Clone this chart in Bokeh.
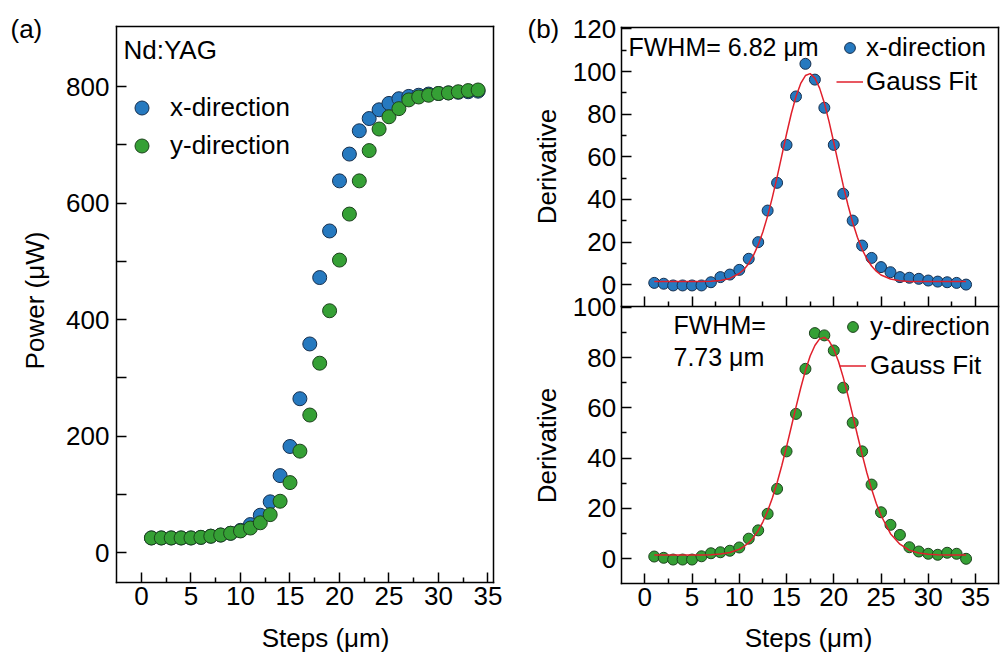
import math
from bokeh.plotting import figure
from bokeh.models import Range1d, FixedTicker, Label, Legend, LegendItem, LinearAxis
from bokeh.embed import file_html
from bokeh.resources import INLINE

FONT = "Liberation Sans"

# ---------------- data ----------------
steps = list(range(1, 35))
power_x = [25, 25, 25, 25, 25, 26, 28, 30, 33, 38, 48, 64, 87, 132, 182, 264, 358, 472,
           552, 638, 684, 724, 745, 760, 771, 779, 783, 785, 787, 788, 789, 790, 791, 792]
power_y = [25, 25, 25, 25, 25, 26, 28, 30, 33, 37, 42, 51, 65, 88, 120, 174, 236, 325,
           415, 502, 581, 638, 690, 727, 748, 762, 777, 782, 785, 788, 789, 791, 793, 794]

deriv_x = [0.9, 0.5, -0.3, -0.3, -0.3, -0.3, 1.2, 3.6, 4.8, 7.0, 12.2, 20.0, 34.8, 47.8,
           65.6, 88.3, 103.6, 96.2, 83.0, 65.6, 42.7, 30.1, 18.4, 12.6, 8.3, 5.9, 3.6,
           3.3, 2.8, 2.0, 1.5, 1.2, 0.9, 0.1]
deriv_y = [0.9, 0.4, -0.3, -0.3, -0.3, 1.0, 2.2, 2.6, 3.2, 4.5, 8.0, 11.3, 17.9, 27.8,
           42.7, 57.6, 75.5, 89.7, 88.8, 82.8, 68.0, 54.1, 42.7, 29.5, 18.5, 13.5, 9.5,
           4.6, 2.9, 2.0, 1.6, 2.4, 2.0, 0.0]

fit_steps = [1, 2, 3, 4, 5, 6, 7, 8, 9, 10,
             10.5, 11, 11.5, 12, 12.5, 13, 13.5, 14, 14.5, 15, 15.5, 16, 16.5, 17, 17.5,
             18, 18.5, 19, 19.5, 20, 20.5, 21, 21.5, 22, 22.5, 23, 23.5, 24, 24.5, 25,
             26, 27, 28, 29, 30, 31, 32, 33, 34]
fit_x = [1.5, 1.5, 1.5, 1.5, 1.5, 1.5, 1.7, 2.0, 3.0, 5.3,
         7.2, 10.0, 13.8, 18.7, 24.9, 32.3, 41.0, 50.5, 60.6, 70.7, 80.2, 88.3, 94.4, 98.1, 99.0,
         96.9, 92.2, 85.2, 76.5, 66.7, 56.6, 46.6, 37.4, 29.2, 22.3, 16.6, 12.2, 8.8, 6.4, 4.6,
         2.7, 1.9, 1.6, 1.5, 1.5, 1.5, 1.5, 1.5, 1.5]
fit_y = [1.5, 1.5, 1.5, 1.5, 1.5, 1.5, 1.6, 1.9, 2.5, 3.8,
         4.9, 6.4, 8.5, 11.2, 14.7, 19.0, 24.2, 30.2, 37.1, 44.5, 52.4, 60.3, 67.9, 74.8, 80.6,
         84.8, 87.4, 88.0, 86.6, 83.3, 78.4, 72.1, 64.9, 57.1, 49.2, 41.5, 34.2, 27.7, 22.0, 17.2,
         10.0, 5.8, 3.4, 2.3, 1.8, 1.6, 1.5, 1.5, 1.5]

x_ticks = [0, 5, 10, 15, 20, 25, 30, 35]
x_minor = [2.5, 7.5, 12.5, 17.5, 22.5, 27.5, 32.5]
power_ticks = [0, 200, 400, 600, 800]
power_minor = [100, 300, 500, 700]
deriv_ticks_top = [0, 20, 40, 60, 80, 100, 120]
deriv_minor_top = [10, 30, 50, 70, 90, 110]
deriv_ticks_bot = [0, 20, 40, 60, 80, 100]
deriv_minor_bot = [10, 30, 50, 70, 90]

BLUE, BLUE_EDGE = "#2679bf", "#17304f"
GREEN, GREEN_EDGE = "#35a035", "#1d431d"
RED = "#e0202c"

# ---------------- panel boxes (visible frames, in data units) ----------------
L_X0, L_X1, L_Y0, L_Y1 = -2.525, 35.556, -51.5, 903.0        # panel (a)
R_X0, R_X1 = -2.498, 37.433                                  # panels (b)
T_Y0, T_Y1 = -10.17, 120.63                                  # upper (b)
B_Y0, B_Y1, B_YTOP = -9.82, 100.28, 211.17                   # lower (b)

p = figure(width=1000, height=653,
           x_range=Range1d(-14.242, 86.768), y_range=Range1d(-173.39, 947.64),
           output_backend="svg", toolbar_location=None,
           x_axis_location=None, y_axis_location=None, min_border=0)
p.outline_line_color = None
p.xgrid.visible = False
p.ygrid.visible = False
p.background_fill_color = "white"
p.border_fill_color = "white"
p.extra_x_ranges = {"xr": Range1d(-68.187, 37.644)}
p.extra_y_ranges = {"yt": Range1d(-172.86, 133.29), "yb": Range1d(-37.64, 221.90)}


def add_axis(side, xr, yr, loc, bounds, ticks, minor, labels=True, standoff=6,
             minor_in=5):
    ax = LinearAxis(x_range_name=xr, y_range_name=yr, fixed_location=loc, bounds=bounds,
                    ticker=FixedTicker(ticks=ticks, minor_ticks=minor))
    ax.axis_line_color = "black"
    ax.axis_line_width = 1.5
    ax.axis_line_cap = "square"
    ax.major_tick_in = 10 if ticks else 0
    ax.major_tick_out = 0
    ax.minor_tick_in = minor_in if minor else 0
    ax.minor_tick_out = 0
    ax.major_tick_line_width = 1.5
    ax.minor_tick_line_width = 1.5
    ax.major_tick_line_color = "black"
    ax.minor_tick_line_color = "black"
    ax.major_label_text_font = FONT
    ax.major_label_text_font_size = "26px"
    ax.major_label_standoff = standoff
    ax.major_label_text_color = "black" if labels else None
    p.add_layout(ax, side)
    return ax


# panel (a) axes and box
add_axis("left", "default", "default", L_X0, (L_Y0, L_Y1), power_ticks, power_minor,
         standoff=7, minor_in=10)
add_axis("below", "default", "default", L_Y0, (L_X0, L_X1), x_ticks, x_minor, standoff=5)
add_axis("above", "default", "default", L_Y1, (L_X0, L_X1), [], [], labels=False)
add_axis("right", "default", "default", L_X1, (L_Y0, L_Y1), [], [], labels=False)

# panels (b) axes and box
add_axis("left", "xr", "yt", R_X0, (T_Y0, T_Y1), deriv_ticks_top, deriv_minor_top, standoff=5)
add_axis("left", "xr", "yb", R_X0, (B_Y0, B_Y1), deriv_ticks_bot, deriv_minor_bot, standoff=5)
add_axis("below", "xr", "yt", T_Y0, (R_X0, R_X1), x_ticks, x_minor, labels=False)
add_axis("below", "xr", "yb", B_Y0, (R_X0, R_X1), x_ticks, x_minor, standoff=4)
add_axis("above", "xr", "yt", T_Y1, (R_X0, R_X1), [], [], labels=False)
add_axis("right", "xr", "yb", R_X1, (B_Y0, B_YTOP), [], [], labels=False)

# ---------------- glyphs ----------------
r_bx = p.scatter(steps, power_x, size=14, fill_color=BLUE, line_color=BLUE_EDGE, line_width=1)
r_gy = p.scatter(steps, power_y, size=14, fill_color=GREEN, line_color=GREEN_EDGE, line_width=1)

r_dx = p.scatter(steps, deriv_x, x_range_name="xr", y_range_name="yt", size=11,
                 fill_color=BLUE, line_color=BLUE_EDGE, line_width=1)
r_fx = p.line(fit_steps, fit_x, x_range_name="xr", y_range_name="yt",
              line_color=RED, line_width=1.5)
r_dy = p.scatter(steps, deriv_y, x_range_name="xr", y_range_name="yb", size=11,
                 fill_color=GREEN, line_color=GREEN_EDGE, line_width=1)
r_fy = p.line(fit_steps, fit_y, x_range_name="xr", y_range_name="yb",
              line_color=RED, line_width=1.5)

# ---------------- legends ----------------
def make_legend(items, loc, gsize, standoff, spacing):
    return Legend(items=items, location=loc, glyph_width=gsize, glyph_height=gsize,
                  label_standoff=standoff, spacing=spacing, padding=0, margin=0,
                  border_line_color=None, background_fill_alpha=0,
                  label_text_font=FONT, label_text_font_size="26px",
                  label_text_color="black")


p.add_layout(make_legend([LegendItem(label="x-direction", renderers=[r_bx]),
                          LegendItem(label="y-direction", renderers=[r_gy])],
                         (124, 490), 35, 11, 3), "center")
p.add_layout(make_legend([LegendItem(label="x-direction", renderers=[r_dx]),
                          LegendItem(label="Gauss Fit", renderers=[r_fx])],
                         (836, 556), 27, 3, 3), "center")
p.add_layout(make_legend([LegendItem(label="y-direction", renderers=[r_dy]),
                          LegendItem(label="Gauss Fit", renderers=[r_fy])],
                         (839, 272), 27, 4, 8), "center")

# ---------------- texts ----------------
def add_text(txt, x, y, size="26px", align="left", angle=0.0):
    p.add_layout(Label(x=x, y=y, x_units="screen", y_units="screen", text=txt, angle=angle,
                       text_font=FONT, text_font_size=size, text_align=align,
                       text_baseline="middle", text_color="black"))


add_text("(a)", 10, 625)
add_text("(b)", 527, 625)
add_text("Nd:YAG", 123, 604)
add_text("FWHM= 6.82 μm", 628, 607, size="25px")
add_text("FWHM=", 673, 329, size="25px")
add_text("7.73 μm", 673, 297, size="25px")
add_text("Power (μW)", 34, 353, align="center", angle=math.pi / 2)
add_text("Derivative", 546, 487, align="center", angle=math.pi / 2)
add_text("Derivative", 546, 208, align="center", angle=math.pi / 2)
add_text("Steps (μm)", 325, 16, align="center")
add_text("Steps (μm)", 808, 16, align="center")

open("out.html", "w").write(file_html(p, INLINE))
